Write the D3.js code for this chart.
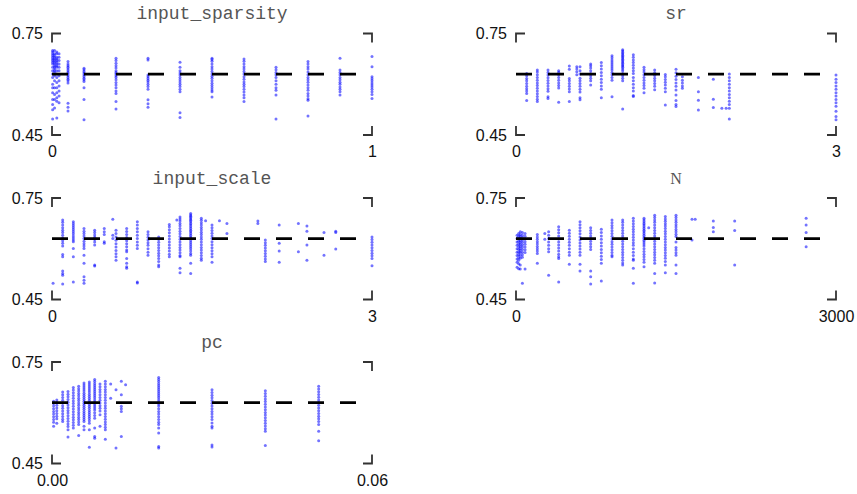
<!DOCTYPE html>
<html>
<head>
<meta charset="utf-8">
<script src="https://cdn.jsdelivr.net/npm/d3@7"></script>
<style>
  body { margin: 0; background: #fff; }
  text { font-family: "Liberation Sans", Arial, sans-serif; }
</style>
</head>
<body>
<svg id="chart" width="857" height="494"></svg>
<script>
// y range shared by all panels, and the dashed reference level
const yTicks = [0.45, 0.75];
const refLevel = 0.63;

// input_sparsity
const sparsityX = [0.002, 0.008, 0.015, 0.022, 0.05, 0.1, 0.2, 0.3, 0.4, 0.5, 0.6, 0.7, 0.8, 0.9, 1.0];
const sparsityY = [
  [0.70, 0.695, 0.69, 0.685, 0.68, 0.675, 0.67, 0.665, 0.66, 0.65, 0.64, 0.63, 0.62, 0.60, 0.59, 0.575, 0.555, 0.54, 0.525, 0.497],
  [0.70, 0.69, 0.685, 0.68, 0.675, 0.67, 0.665, 0.66, 0.655, 0.65, 0.645, 0.64, 0.635, 0.625, 0.61, 0.59, 0.57, 0.555, 0.53],
  [0.695, 0.69, 0.68, 0.675, 0.67, 0.665, 0.66, 0.655, 0.65, 0.64, 0.63, 0.62, 0.605, 0.59, 0.575, 0.56, 0.55, 0.50],
  [0.69, 0.68, 0.67, 0.66, 0.65, 0.64, 0.625, 0.61, 0.595, 0.58, 0.565, 0.545],
  [0.667, 0.66, 0.655, 0.65, 0.645, 0.64, 0.635, 0.63, 0.625, 0.62, 0.615, 0.61, 0.604, 0.544, 0.532, 0.521],
  [0.647, 0.643, 0.638, 0.633, 0.628, 0.623, 0.618, 0.613, 0.608, 0.59, 0.555, 0.495],
  [0.677, 0.670, 0.662, 0.655, 0.648, 0.640, 0.635, 0.630, 0.625, 0.620, 0.613, 0.605, 0.598, 0.59, 0.58, 0.573, 0.549, 0.527],
  [0.677, 0.672, 0.627, 0.622, 0.617, 0.612, 0.607, 0.600, 0.593, 0.585, 0.554, 0.542, 0.532],
  [0.665, 0.650, 0.640, 0.633, 0.627, 0.62, 0.613, 0.607, 0.60, 0.593, 0.585, 0.578, 0.516, 0.502],
  [0.677, 0.673, 0.668, 0.66, 0.652, 0.645, 0.638, 0.63, 0.624, 0.618, 0.61, 0.603, 0.596, 0.59, 0.583, 0.578, 0.562],
  [0.675, 0.668, 0.66, 0.652, 0.645, 0.638, 0.63, 0.622, 0.615, 0.607, 0.60, 0.593, 0.585, 0.577, 0.568, 0.56, 0.549],
  [0.650, 0.643, 0.635, 0.628, 0.62, 0.61, 0.60, 0.59, 0.582, 0.568, 0.497],
  [0.667, 0.66, 0.652, 0.645, 0.636, 0.628, 0.62, 0.613, 0.606, 0.598, 0.59, 0.582, 0.573, 0.565, 0.557, 0.553, 0.506],
  [0.677, 0.642, 0.635, 0.628, 0.62, 0.613, 0.606, 0.6, 0.592, 0.585, 0.578, 0.568],
  [0.682, 0.652, 0.622, 0.616, 0.61, 0.604, 0.598, 0.592, 0.585, 0.578, 0.57, 0.558]
];

// sr
const srX = [0.1, 0.2, 0.3, 0.4, 0.5, 0.57, 0.6, 0.7, 0.8, 0.9, 1.0, 1.1, 1.2, 1.3, 1.4, 1.5, 1.56, 1.71, 1.85, 1.93, 1.97, 2.0, 3.0];
const srY = [
  [0.632, 0.625, 0.617, 0.61, 0.602, 0.594, 0.587, 0.58, 0.573, 0.552],
  [0.642, 0.636, 0.628, 0.62, 0.612, 0.604, 0.596, 0.588, 0.58, 0.572, 0.564, 0.556, 0.549],
  [0.642, 0.635, 0.627, 0.619, 0.611, 0.603, 0.595, 0.587, 0.579, 0.563, 0.558],
  [0.64, 0.635, 0.628, 0.62, 0.612, 0.604, 0.596, 0.589, 0.547],
  [0.654, 0.644, 0.617, 0.61, 0.602, 0.594, 0.586, 0.578, 0.549],
  [0.652, 0.645, 0.637, 0.628],
  [0.652, 0.64, 0.63, 0.618, 0.61, 0.602, 0.594, 0.585, 0.577, 0.56, 0.554],
  [0.66, 0.655, 0.648, 0.64, 0.632, 0.625, 0.618, 0.61, 0.598],
  [0.664, 0.655, 0.645, 0.635, 0.625, 0.615, 0.605, 0.595, 0.585, 0.56],
  [0.684, 0.678, 0.672, 0.666, 0.66, 0.654, 0.648, 0.642, 0.635, 0.628, 0.62, 0.612, 0.563],
  [0.702, 0.698, 0.694, 0.69, 0.686, 0.682, 0.678, 0.674, 0.67, 0.666, 0.662, 0.658, 0.654, 0.65, 0.645, 0.64, 0.632, 0.625, 0.618, 0.61, 0.527],
  [0.687, 0.68, 0.672, 0.664, 0.656, 0.648, 0.64, 0.632, 0.62, 0.61, 0.6, 0.59, 0.58, 0.567, 0.564],
  [0.65, 0.643, 0.636, 0.628, 0.62, 0.612, 0.604, 0.596, 0.588, 0.575],
  [0.642, 0.634, 0.626, 0.618, 0.61, 0.602, 0.594, 0.584],
  [0.629, 0.622, 0.614, 0.606, 0.598, 0.588, 0.578, 0.539],
  [0.644, 0.634, 0.624, 0.614, 0.604, 0.594, 0.583, 0.568, 0.552, 0.54, 0.534],
  [0.622, 0.612, 0.604, 0.595, 0.588],
  [0.62, 0.578, 0.553, 0.524],
  [0.615, 0.556, 0.531],
  [0.529],
  [0.529],
  [0.63, 0.62, 0.61, 0.6, 0.59, 0.58, 0.57, 0.56, 0.55, 0.54, 0.529, 0.497],
  [0.627, 0.615, 0.605, 0.595, 0.585, 0.575, 0.565, 0.555, 0.545, 0.535, 0.52, 0.505, 0.495]
];

// input_scale
const scaleX = [0.01, 0.1, 0.2, 0.3, 0.4, 0.49, 0.57, 0.6, 0.7, 0.8, 0.9, 1.0, 1.1, 1.17, 1.2, 1.3, 1.4, 1.44, 1.5, 1.57, 1.64, 1.93, 2.0, 2.13, 2.31, 2.39, 2.55, 2.66, 3.0];
const scaleY = [
  [0.498],
  [0.685, 0.678, 0.670, 0.662, 0.655, 0.648, 0.640, 0.632, 0.624, 0.616, 0.608, 0.583, 0.576, 0.534, 0.527, 0.522, 0.496],
  [0.680, 0.674, 0.668, 0.662, 0.656, 0.650, 0.644, 0.638, 0.632, 0.626, 0.621, 0.601, 0.576, 0.502],
  [0.660, 0.652, 0.645, 0.638, 0.630, 0.622, 0.615, 0.608, 0.601, 0.581, 0.557, 0.517, 0.507, 0.498],
  [0.655, 0.648, 0.641, 0.634, 0.627, 0.620, 0.611, 0.552, 0.549],
  [0.660, 0.650, 0.642, 0.621, 0.616],
  [0.687, 0.640, 0.630],
  [0.655, 0.645, 0.635, 0.625, 0.615, 0.605, 0.595, 0.585, 0.576, 0.566],
  [0.660, 0.651, 0.642, 0.633, 0.624, 0.615, 0.606, 0.596, 0.591, 0.571, 0.557, 0.547, 0.542],
  [0.680, 0.670, 0.660, 0.650, 0.640, 0.630, 0.620, 0.610, 0.601, 0.502, 0.499],
  [0.650, 0.642, 0.634, 0.626, 0.618, 0.610, 0.600, 0.590, 0.581],
  [0.635, 0.627, 0.619, 0.611, 0.603, 0.595, 0.587, 0.579, 0.571, 0.562, 0.552, 0.547],
  [0.672, 0.665, 0.656, 0.647, 0.638, 0.629, 0.620, 0.611, 0.602, 0.593, 0.584, 0.576],
  [0.685],
  [0.694, 0.688, 0.682, 0.675, 0.668, 0.660, 0.652, 0.644, 0.636, 0.628, 0.620, 0.612, 0.604, 0.596, 0.588, 0.580, 0.576, 0.542, 0.529],
  [0.704, 0.700, 0.696, 0.692, 0.688, 0.684, 0.680, 0.675, 0.670, 0.665, 0.660, 0.655, 0.650, 0.645, 0.640, 0.635, 0.630, 0.624, 0.618, 0.612, 0.606, 0.600, 0.593, 0.586, 0.581, 0.557, 0.527],
  [0.690, 0.684, 0.677, 0.670, 0.663, 0.656, 0.649, 0.642, 0.635, 0.628, 0.620, 0.612, 0.604, 0.596, 0.588, 0.580, 0.572, 0.566],
  [0.683],
  [0.670, 0.662, 0.654, 0.646, 0.638, 0.630, 0.621, 0.612, 0.603, 0.594, 0.585, 0.576, 0.560],
  [0.683],
  [0.675, 0.645],
  [0.682, 0.675],
  [0.626, 0.618, 0.610, 0.602, 0.594, 0.586, 0.578, 0.570, 0.562],
  [0.670, 0.616, 0.593, 0.560],
  [0.675, 0.591],
  [0.667, 0.652, 0.611, 0.566],
  [0.648, 0.581],
  [0.652, 0.648, 0.599],
  [0.635, 0.627, 0.619, 0.611, 0.603, 0.595, 0.587, 0.579, 0.571, 0.550]
];

// N
const nX = [10, 25, 40, 60, 85, 200, 270, 306, 400, 500, 600, 700, 800, 900, 1000, 1100, 1200, 1244, 1300, 1400, 1500, 1650, 1680, 1850, 2050, 2720];
const nY = [
  [0.640, 0.630, 0.620, 0.610, 0.600, 0.590, 0.580, 0.570, 0.560, 0.545],
  [0.645, 0.637, 0.630, 0.622, 0.614, 0.606, 0.598, 0.590, 0.582, 0.574, 0.566, 0.556, 0.541],
  [0.650, 0.642, 0.636, 0.630, 0.624, 0.618, 0.612, 0.606, 0.600, 0.594, 0.588, 0.580, 0.572, 0.552, 0.540],
  [0.648, 0.640, 0.633, 0.626, 0.619, 0.612, 0.605, 0.598, 0.590, 0.582, 0.575, 0.498],
  [0.645, 0.637, 0.629, 0.621, 0.613, 0.605, 0.597, 0.589, 0.540],
  [0.642, 0.635, 0.628, 0.621, 0.614, 0.607, 0.600, 0.593, 0.586, 0.557],
  [0.645, 0.628],
  [0.650, 0.640, 0.630, 0.620, 0.610, 0.600, 0.591, 0.522],
  [0.665, 0.656, 0.647, 0.638, 0.629, 0.620, 0.611, 0.602, 0.593, 0.584, 0.576, 0.571, 0.502],
  [0.655, 0.646, 0.637, 0.628, 0.619, 0.610, 0.600, 0.590, 0.581, 0.554],
  [0.680, 0.671, 0.662, 0.653, 0.644, 0.635, 0.626, 0.617, 0.608, 0.599, 0.590, 0.581, 0.554, 0.534],
  [0.662, 0.654, 0.646, 0.638, 0.630, 0.622, 0.614, 0.606, 0.598, 0.534, 0.517, 0.496],
  [0.658, 0.648, 0.638, 0.628, 0.618, 0.608, 0.598, 0.588, 0.578, 0.568, 0.557, 0.505],
  [0.685, 0.677, 0.669, 0.661, 0.653, 0.645, 0.637, 0.629, 0.621, 0.613, 0.605, 0.597, 0.589, 0.581, 0.576],
  [0.685, 0.678, 0.670, 0.662, 0.654, 0.646, 0.638, 0.630, 0.622, 0.614, 0.606, 0.598, 0.590, 0.582, 0.574, 0.566, 0.558, 0.552],
  [0.690, 0.682, 0.674, 0.666, 0.658, 0.650, 0.642, 0.634, 0.626, 0.618, 0.610, 0.600, 0.590, 0.580, 0.570, 0.566, 0.542, 0.498],
  [0.690, 0.685, 0.680, 0.675, 0.670, 0.665, 0.660, 0.655, 0.650, 0.645, 0.640, 0.635, 0.630, 0.625, 0.620, 0.614, 0.608, 0.600, 0.592, 0.584, 0.576, 0.568, 0.560, 0.547],
  [0.662],
  [0.699, 0.692, 0.685, 0.678, 0.670, 0.662, 0.654, 0.646, 0.638, 0.630, 0.622, 0.614, 0.606, 0.598, 0.590, 0.582, 0.574, 0.566, 0.557, 0.527, 0.499],
  [0.695, 0.688, 0.681, 0.674, 0.667, 0.660, 0.652, 0.644, 0.636, 0.628, 0.620, 0.612, 0.604, 0.596, 0.588, 0.580, 0.572, 0.562, 0.552, 0.529],
  [0.699, 0.692, 0.685, 0.678, 0.671, 0.664, 0.657, 0.650, 0.643, 0.636, 0.620, 0.604, 0.596, 0.588, 0.581, 0.552, 0.527],
  [0.687, 0.626],
  [0.687],
  [0.682, 0.663, 0.650],
  [0.682, 0.654, 0.552],
  [0.690, 0.670, 0.648, 0.606]
];

// pc
const pcX = [0.0003, 0.0009, 0.002, 0.003, 0.004, 0.005, 0.006, 0.007, 0.008, 0.009, 0.010, 0.011, 0.012, 0.013, 0.0138, 0.02, 0.03, 0.04, 0.05];
const pcY = [
  [0.634, 0.627, 0.620, 0.612, 0.604, 0.596, 0.588, 0.580, 0.572, 0.560],
  [0.638, 0.630, 0.622, 0.614, 0.606, 0.598, 0.590, 0.582, 0.569],
  [0.661, 0.653, 0.645, 0.637, 0.629, 0.621, 0.613, 0.605, 0.597, 0.589, 0.581, 0.574],
  [0.663, 0.655, 0.647, 0.639, 0.631, 0.623, 0.615, 0.607, 0.599, 0.591, 0.583, 0.575, 0.567, 0.559, 0.550, 0.528],
  [0.675, 0.667, 0.659, 0.651, 0.643, 0.635, 0.627, 0.619, 0.611, 0.603, 0.595, 0.587, 0.579, 0.571, 0.563, 0.555],
  [0.678, 0.671, 0.664, 0.657, 0.650, 0.643, 0.636, 0.629, 0.622, 0.615, 0.608, 0.601, 0.594, 0.587, 0.580, 0.573, 0.565, 0.533],
  [0.688, 0.682, 0.676, 0.670, 0.664, 0.658, 0.652, 0.646, 0.640, 0.634, 0.628, 0.622, 0.616, 0.610, 0.604, 0.598, 0.592, 0.586, 0.580, 0.574, 0.560, 0.550],
  [0.691, 0.685, 0.679, 0.673, 0.667, 0.661, 0.655, 0.649, 0.643, 0.637, 0.631, 0.625, 0.619, 0.613, 0.607, 0.601, 0.595, 0.589, 0.583, 0.576, 0.569, 0.550, 0.498],
  [0.698, 0.692, 0.686, 0.680, 0.674, 0.668, 0.662, 0.656, 0.650, 0.644, 0.638, 0.632, 0.626, 0.620, 0.614, 0.608, 0.600, 0.592, 0.584, 0.555, 0.530, 0.525],
  [0.685, 0.677, 0.669, 0.661, 0.653, 0.645, 0.637, 0.629, 0.621, 0.613, 0.605, 0.594, 0.560],
  [0.693, 0.685, 0.677, 0.669, 0.661, 0.653, 0.645, 0.637, 0.629, 0.621, 0.613, 0.605, 0.597, 0.589, 0.581, 0.573, 0.565, 0.557, 0.550, 0.522],
  [0.685, 0.643],
  [0.668, 0.496],
  [0.693, 0.653, 0.619, 0.612, 0.604, 0.530],
  [0.683],
  [0.704, 0.698, 0.692, 0.686, 0.680, 0.674, 0.668, 0.662, 0.656, 0.650, 0.644, 0.638, 0.632, 0.626, 0.620, 0.612, 0.604, 0.596, 0.588, 0.580, 0.572, 0.565, 0.555, 0.540, 0.500, 0.496],
  [0.668, 0.660, 0.652, 0.644, 0.636, 0.628, 0.620, 0.612, 0.604, 0.596, 0.588, 0.580, 0.570, 0.560, 0.555, 0.505, 0.499],
  [0.665, 0.657, 0.649, 0.641, 0.633, 0.625, 0.617, 0.609, 0.601, 0.593, 0.585, 0.577, 0.569, 0.561, 0.553, 0.545, 0.503],
  [0.678, 0.670, 0.662, 0.654, 0.646, 0.638, 0.630, 0.622, 0.614, 0.606, 0.598, 0.590, 0.582, 0.574, 0.565, 0.545, 0.517]
];

const panels = [
  { title: "input_sparsity", font: "Liberation Mono", xs: sparsityX, ys: sparsityY, domain: [0, 1], fmt: d3.format("d"), col: 0, row: 0 },
  { title: "sr", font: "Liberation Mono", xs: srX, ys: srY, domain: [0, 3], fmt: d3.format("d"), col: 1, row: 0 },
  { title: "input_scale", font: "Liberation Mono", xs: scaleX, ys: scaleY, domain: [0, 3], fmt: d3.format("d"), col: 0, row: 1 },
  { title: "N", font: "Liberation Serif", xs: nX, ys: nY, domain: [0, 3000], fmt: d3.format("d"), col: 1, row: 1 },
  { title: "pc", font: "Liberation Mono", xs: pcX, ys: pcY, domain: [0, 0.06], fmt: d3.format(".2f"), col: 0, row: 2 }
];

const svg = d3.select("#chart");
const colLeft = [52, 516];
const rowTop = [33.5, 198, 362];
const w = 320, h = 101.5, arm = 9;

panels.forEach((p) => {
  const g = svg.append("g")
    .attr("transform", `translate(${colLeft[p.col]},${rowTop[p.row]})`);

  const x = d3.scaleLinear().domain(p.domain).range([0, w]);
  const y = d3.scaleLinear().domain(yTicks).range([h, 0]);

  const pts = p.xs.flatMap((xv, i) => p.ys[i].map((yv) => ({ x: xv, y: yv })));

  g.selectAll("circle")
    .data(pts)
    .join("circle")
    .attr("cx", (d) => x(d.x))
    .attr("cy", (d) => y(d.y))
    .attr("r", 1.5)
    .style("fill", "#0000ff")
    .style("fill-opacity", 0.55);

  g.append("line")
    .attr("x1", x(p.domain[0]))
    .attr("x2", x(p.domain[1]))
    .attr("y1", y(refLevel))
    .attr("y2", y(refLevel))
    .attr("stroke", "#000")
    .attr("stroke-width", 2.6)
    .attr("stroke-dasharray", "16,16");

  // corner brackets
  const x0 = x(p.domain[0]), x1 = x(p.domain[1]);
  const yt = y(yTicks[1]), yb = y(yTicks[0]);
  const corners = [
    `M${x0},${yt + arm}V${yt}H${x0 + arm}`,
    `M${x1 - arm},${yt}H${x1}V${yt + arm}`,
    `M${x0},${yb - arm}V${yb}H${x0 + arm}`,
    `M${x1 - arm},${yb}H${x1}V${yb - arm}`
  ];
  g.selectAll("path.corner")
    .data(corners)
    .join("path")
    .attr("class", "corner")
    .attr("d", (d) => d)
    .attr("fill", "none")
    .attr("stroke", "#333")
    .attr("stroke-width", 1.8);

  const yAxis = g.append("g")
    .call(d3.axisLeft(y).tickValues(yTicks).tickSize(0).tickPadding(9).tickFormat(d3.format(".2f")));
  yAxis.select(".domain").remove();
  yAxis.selectAll("text").style("font-size", "16px").style("fill", "#111");

  const xAxis = g.append("g")
    .attr("transform", `translate(0,${h})`)
    .call(d3.axisBottom(x).tickValues(p.domain).tickSize(0).tickPadding(11).tickFormat(p.fmt));
  xAxis.select(".domain").remove();
  xAxis.selectAll("text").style("font-size", "16px").style("fill", "#111");

  g.append("text")
    .attr("x", w / 2)
    .attr("y", -14.5)
    .attr("text-anchor", "middle")
    .style("font-family", p.font)
    .style("font-size", p.font === "Liberation Serif" ? "16px" : "18px")
    .style("fill", "#555")
    .text(p.title);
});
</script>
</body>
</html>
